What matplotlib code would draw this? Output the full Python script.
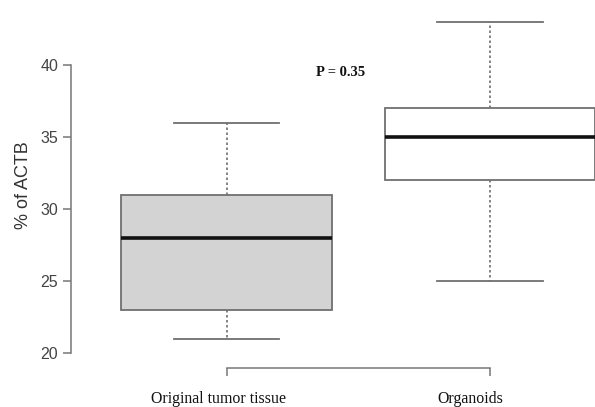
import matplotlib
matplotlib.use("Agg")
import matplotlib.pyplot as plt
import matplotlib.transforms as mtransforms

# ACTB-normalised expression, summary per group
groups = ["Original tumor tissue", "Organoids"]
medians = [28, 35]
q1s = [23, 32]
q3s = [31, 37]
whis_lo = [21, 25]
whis_hi = [36, 43]
fills = ["#d3d3d3", "white"]
p_text = "P = 0.35"

yticks = [20, 25, 30, 35, 40]

fig = plt.figure(figsize=(5.95, 4.07), dpi=100)
W, H = 595, 407

# axes origin sits on the drawn axis lines
ax = fig.add_axes([71 / W, (H - 368) / H, 1 - 71 / W, 368 / H])
ax.set_xlim(1 + (71 - 226.5) / 263.5, 1 + (595 - 226.5) / 263.5)
ax.set_ylim(20 - 15 / 14.4, 20 + 353 / 14.4)

stats = []
for i, g in enumerate(groups):
    stats.append(dict(label=g, med=medians[i], q1=q1s[i], q3=q3s[i],
                      whislo=whis_lo[i], whishi=whis_hi[i], fliers=[]))

edge = "#707070"
bp = ax.bxp(stats, positions=[1, 2], widths=0.8, capwidths=0.4,
            patch_artist=True, showfliers=False,
            boxprops=dict(edgecolor=edge, linewidth=1.3),
            whiskerprops=dict(color=edge, linewidth=1.2, linestyle=(0, (1.5, 1.5))),
            capprops=dict(color=edge, linewidth=1.3),
            medianprops=dict(color="#111111", linewidth=2.6, solid_capstyle="butt"))
for patch, c in zip(bp["boxes"], fills):
    patch.set_facecolor(c)

for s in ["top", "right"]:
    ax.spines[s].set_visible(False)
ax.spines["left"].set_bounds(20, 40)
ax.spines["bottom"].set_bounds(1, 2)
for s in ["left", "bottom"]:
    ax.spines[s].set_color("#777777")
    ax.spines[s].set_linewidth(1.1)

ax.set_yticks(yticks)
ax.set_yticklabels([str(t) for t in yticks], fontfamily="Liberation Sans",
                   fontsize=11.5, color="#444444")
ax.tick_params(axis="y", length=5.8, width=1.1, color="#777777", pad=3.5)

ax.set_xticks([1, 2])
ax.set_xticklabels(groups, fontfamily="Liberation Serif", fontsize=11.4,
                   color="#111111")
ax.tick_params(axis="x", length=5.8, width=1.1, color="#777777", pad=11)
# group names sit a little left of their ticks
for lbl, dx in zip(ax.get_xticklabels(), [-8, -20]):
    lbl.set_transform(lbl.get_transform() +
                      mtransforms.ScaledTranslation(dx / 100, 0, fig.dpi_scale_trans))

ax.set_ylabel("% of ACTB", fontfamily="Liberation Sans", fontsize=13,
              color="#333333")
ax.yaxis.set_label_coords(-39 / (W - 71), (368 - 185) / 368)

ax.text(1.4345, 39.5, p_text, fontfamily="Liberation Serif", fontsize=10.5,
        fontweight="bold", ha="center", va="center", color="#111111")

fig.savefig("out.png", dpi=100)
